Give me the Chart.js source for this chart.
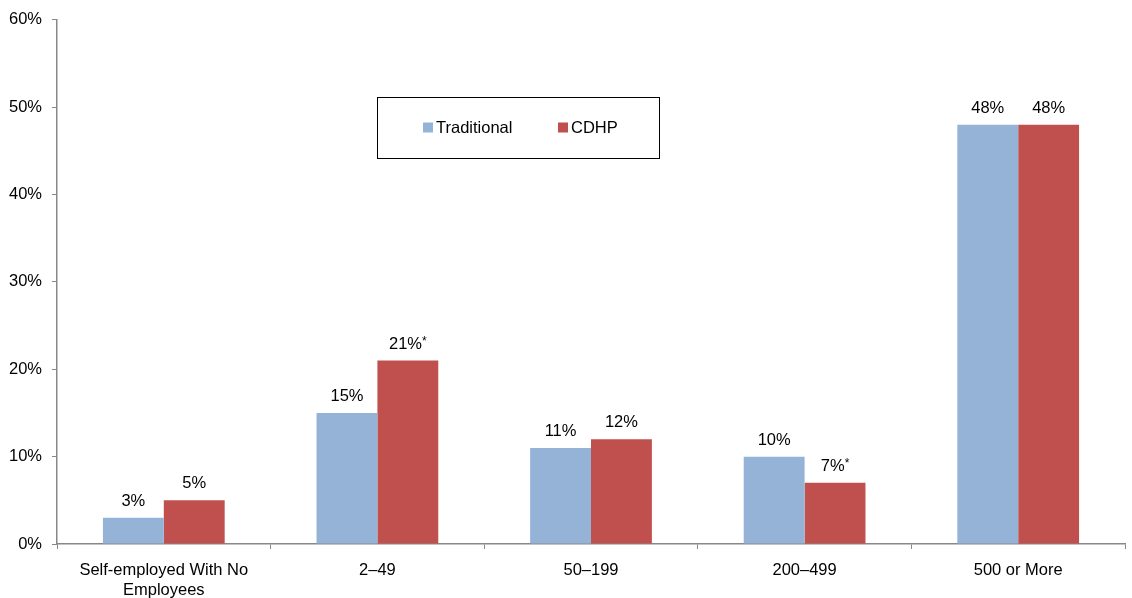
<!DOCTYPE html>
<html>
<head>
<meta charset="utf-8">
<script src="https://cdn.jsdelivr.net/npm/chart.js@4.4.1/dist/chart.umd.min.js"></script>
<style>
  html, body { margin: 0; padding: 0; background: #fff; }
  #wrap { width: 1132px; height: 598px; position: relative; }
</style>
</head>
<body>
<div id="wrap"><canvas id="chart_size"></canvas></div>
<script>
const categories = [['Self-employed With No', 'Employees'], '2–49', '50–199', '200–499', '500 or More'];
const traditional = [3, 15, 11, 10, 48];
const cdhp = [5, 21, 12, 7, 48];
const traditionalNotes = ['', '', '', '', ''];
const cdhpNotes = ['', '*', '', '*', ''];
const yTicks = [0, 10, 20, 30, 40, 50, 60];

const FONT = '"Liberation Sans", Arial, Helvetica, sans-serif';
const notes = [traditionalNotes, cdhpNotes];

const valueLabels = {
    id: 'valueLabels',
    afterDatasetsDraw(chart) {
        const ctx = chart.ctx;
        ctx.save();
        ctx.fillStyle = '#000';
        chart.data.datasets.forEach((ds, di) => {
            chart.getDatasetMeta(di).data.forEach((bar, i) => {
                const txt = ds.data[i] + '%';
                const star = notes[di][i];
                ctx.font = '16.5px ' + FONT;
                const w = ctx.measureText(txt).width;
                ctx.font = '12px ' + FONT;
                const sw = star ? ctx.measureText(star).width : 0;
                const x0 = bar.x - (w + sw) / 2;
                const y = bar.y - 12;
                ctx.textBaseline = 'alphabetic';
                ctx.textAlign = 'left';
                ctx.font = '16.5px ' + FONT;
                ctx.fillText(txt, x0, y);
                if (star) {
                    ctx.font = '12px ' + FONT;
                    ctx.fillText(star, x0 + w, y - 4);
                }
            });
        });
        ctx.restore();
    }
};

const boxLegend = {
    id: 'boxLegend',
    afterDraw(chart, args, opts) {
        const ctx = chart.ctx;
        ctx.save();
        ctx.strokeStyle = '#000';
        ctx.lineWidth = 1;
        ctx.strokeRect(opts.x + 0.5, opts.y + 0.5, opts.w, opts.h);
        ctx.font = '16.5px ' + FONT;
        ctx.textBaseline = 'middle';
        ctx.textAlign = 'left';
        const cy = opts.y + opts.h / 2;
        chart.data.datasets.forEach((ds, i) => {
            const sx = opts.itemX[i];
            ctx.fillStyle = ds.backgroundColor;
            ctx.fillRect(sx, cy - 5, 10, 10);
            ctx.fillStyle = '#000';
            ctx.fillText(ds.label, sx + 13, cy + 1);
        });
        ctx.restore();
    }
};

new Chart(document.getElementById('chart_size'), {
    type: 'bar',
    data: {
        labels: categories,
        datasets: [
            { label: 'Traditional', data: traditional, backgroundColor: '#95b3d7' },
            { label: 'CDHP', data: cdhp, backgroundColor: '#c0504d' }
        ]
    },
    options: {
        responsive: true,
        maintainAspectRatio: false,
        animation: false,
        layout: { padding: { top: 14, right: 7, left: 0, bottom: 0 } },
        datasets: { bar: { barPercentage: 1, categoryPercentage: 0.57, borderWidth: 0 } },
        plugins: {
            legend: { display: false },
            tooltip: { enabled: false },
            boxLegend: { x: 377, y: 97, w: 282, h: 61, itemX: [423, 558] }
        },
        scales: {
            x: {
                grid: { drawOnChartArea: false, drawTicks: true, tickLength: 5, color: '#888', offset: true },
                border: { color: '#888', width: 1.5 },
                ticks: { color: '#000', font: { family: FONT, size: 16.5, lineHeight: 1.18 }, padding: 12, maxRotation: 0, autoSkip: false },
                afterFit: (s) => { s.height = 54; }
            },
            y: {
                min: 0,
                max: 60,
                grid: { drawOnChartArea: false, drawTicks: true, tickLength: 5, color: '#888' },
                border: { color: '#888', width: 1.5 },
                afterBuildTicks: (s) => { s.ticks = yTicks.map(v => ({ value: v })); },
                ticks: { color: '#000', font: { family: FONT, size: 16.5 }, padding: 10, callback: (v) => v + '%' },
                afterFit: (s) => { s.width = 57; }
            }
        }
    },
    plugins: [valueLabels, boxLegend]
});
</script>
</body>
</html>
